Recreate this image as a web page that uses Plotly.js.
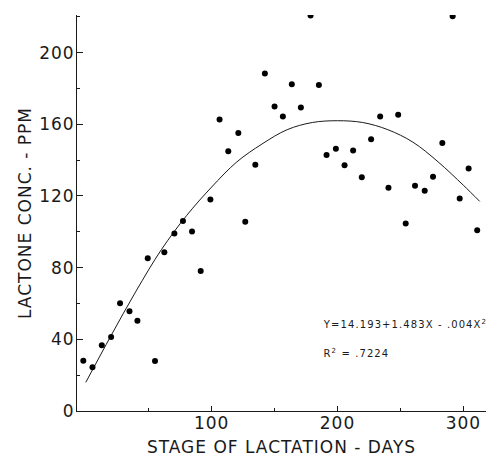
<!DOCTYPE html>
<html>
<head>
<meta charset="utf-8">
<script src="https://cdn.plot.ly/plotly-3.0.1.min.js"></script>
<style>
html, body { margin: 0; padding: 0; background: #fff; }
#chart { width: 486px; height: 457px; }
.js-plotly-plot .xtick text, .js-plotly-plot .ytick text,
.js-plotly-plot .xtitle, .js-plotly-plot .ytitle { letter-spacing: 1px; }
.js-plotly-plot .annotation-text { letter-spacing: 1.1px; }
</style>
</head>
<body>
<div id="chart"></div>
<script>
// Observed points: stage of lactation (days) vs lactone concentration (ppm)
var days = [-2, 5.3, 12.7, 20.1, 27.2, 34.7, 41, 49.2, 55, 62.4, 70.4, 77.2, 84.4, 91.3, 99,
  106.3, 113.2, 121.2, 126.7, 134.7, 142.3, 150, 156.6, 163.7, 170.9, 178.6, 185.2, 191.3, 198.7,
  205.6, 212.4, 219.3, 226.7, 233.9, 240.5, 248.2, 254.2, 261.6, 269.3, 275.9, 283.3, 291.5,
  297.1, 304.2, 311];
var lactone = [28.1, 24.4, 36.7, 41.3, 60.2, 55.7, 50.3, 85.3, 27.9, 88.6, 99, 106.1, 100.2, 78.2, 118,
  162.7, 144.9, 155.1, 105.6, 137.4, 188.4, 170, 164.4, 182.3, 169.4, 220.7, 181.9, 142.8, 146.3,
  137.2, 145.4, 130.4, 151.6, 164.4, 124.6, 165.4, 104.6, 125.7, 122.9, 130.7, 149.6, 220.3,
  118.6, 135.4, 100.9];

// Fitted curve
var fitDays = [0, 20, 40, 60, 80, 100, 120, 140, 160, 180, 200, 220, 240, 260, 280, 300, 313];
var fitLactone = [16, 42, 67, 90, 109, 125, 139, 149, 157, 161, 162, 161, 157, 150, 139, 126, 117];

var xTickVals = [100, 200, 300];
var xTickText = ['100', '200', '300'];
var yTickVals = [0, 40, 80, 120, 160, 200];
var yTickText = ['0', '40', '80', '120', '160', '200'];

var equationText = 'Y=14.193+1.483X - .004X<sup>2</sup>';
var r2Text = 'R<sup>2</sup> = .7224';

var ink = '#1a1a1a';
var fontFam = 'DejaVu Sans, sans-serif';

var traces = [
  {
    x: fitDays, y: fitLactone, type: 'scatter', mode: 'lines',
    line: { color: ink, width: 1, shape: 'spline' }, hoverinfo: 'skip', showlegend: false
  },
  {
    x: days, y: lactone, type: 'scatter', mode: 'markers',
    marker: { color: '#000', size: 6 }, showlegend: false
  }
];

var layout = {
  width: 486, height: 457,
  margin: { l: 77, r: 0, t: 15, b: 46 },
  paper_bgcolor: '#fff', plot_bgcolor: '#fff',
  font: { family: fontFam, color: ink, size: 17 },
  showlegend: false,
  xaxis: {
    range: [-7, 318], showgrid: false, zeroline: false,
    showline: true, linecolor: ink, linewidth: 1,
    tickmode: 'array', tickvals: xTickVals, ticktext: xTickText,
    ticks: 'inside', ticklen: 5, tickcolor: ink, tickwidth: 1,
    ticklabelstandoff: -3,
    minor: { tickmode: 'array', tickvals: [50, 150, 250], ticks: 'inside', ticklen: 3, tickcolor: ink, showgrid: false },
    tickfont: { family: fontFam, size: 17, color: ink },
    title: { text: 'STAGE OF LACTATION - DAYS', font: { family: fontFam, size: 17, color: ink }, standoff: 9 }
  },
  yaxis: {
    range: [0, 221], showgrid: false, zeroline: false,
    showline: true, linecolor: ink, linewidth: 1,
    tickmode: 'array', tickvals: yTickVals, ticktext: yTickText,
    ticks: 'inside', ticklen: 6, tickcolor: ink, tickwidth: 1,
    ticklabelstandoff: -2,
    minor: { tickmode: 'array', tickvals: [20, 60, 100, 140, 180, 220], ticks: 'inside', ticklen: 3, tickcolor: ink, showgrid: false },
    tickfont: { family: fontFam, size: 17, color: ink },
    title: { text: 'LACTONE CONC. - PPM', font: { family: fontFam, size: 17, color: ink }, standoff: 6 }
  },
  annotations: [
    { x: 197.2, y: 48.5, xref: 'x', yref: 'y', xanchor: 'left', yanchor: 'middle', showarrow: false,
      text: equationText, font: { family: fontFam, size: 10, color: ink } },
    { x: 191.7, y: 32.4, xref: 'x', yref: 'y', xanchor: 'left', yanchor: 'middle', showarrow: false,
      text: r2Text, font: { family: fontFam, size: 10, color: ink } }
  ]
};

Plotly.newPlot('chart', traces, layout, { staticPlot: true, displayModeBar: false });
</script>
</body>
</html>
